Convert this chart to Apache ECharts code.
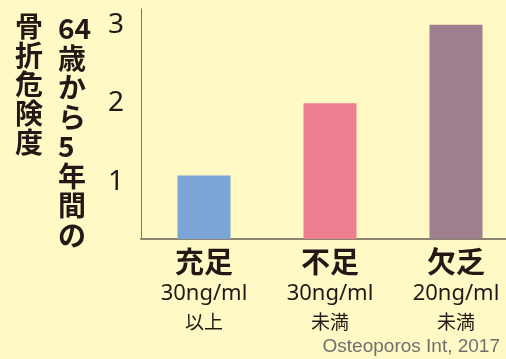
<!DOCTYPE html>
<html>
<head>
<meta charset="utf-8">
<script src="https://cdn.jsdelivr.net/npm/echarts@6/dist/echarts.min.js"></script>
<style>
	html, body { margin: 0; padding: 0; background: #fef9c5; }
	#chart { width: 506px; height: 359px; }
</style>
</head>
<body>
<div id="chart"></div>
<script>
var categories = ['充足', '不足', '欠乏'];
var levels = ['30ng/ml', '30ng/ml', '20ng/ml'];
var bounds = ['以上', '未満', '未満'];
var risk = [1.08, 2.0, 3.0];
var colors = ['#7ba4d7', '#ec7f8f', '#9e7f8e'];

var myChart = echarts.init(document.getElementById('chart'));

var data = [];
for (var i = 0; i < risk.length; i++) {
	data.push({
		value: risk[i],
		itemStyle: { color: colors[i] }
	});
}

myChart.setOption({
	backgroundColor: '#fef9c5',
	animation: false,
	grid: {
		left: 141,
		width: 378,
		top: 9,
		bottom: 120,
		outerBoundsMode: 'none'
	},
	xAxis: {
		type: 'category',
		data: categories,
		axisLine: { lineStyle: { color: '#8b8570', width: 2 } },
		axisTick: { show: false },
		axisLabel: {
			margin: 7,
			formatter: function(value, idx) {
				return '{a|' + value + '}\n{b|' + levels[idx] + '}\n{c|' + bounds[idx] + '}';
			},
			rich: {
				a: { fontSize: 29, fontWeight: 'bold', lineHeight: 31, color: '#231815', fontFamily: '"Noto Sans CJK JP"' },
				b: { fontSize: 22, lineHeight: 34, color: '#231815', fontFamily: '"Noto Sans"' },
				c: { fontSize: 19, lineHeight: 22, color: '#231815', fontFamily: '"Noto Sans CJK JP"' }
			}
		}
	},
	yAxis: {
		type: 'value',
		min: 0.27,
		max: 3.2,
		splitNumber: 3,
		splitLine: { show: false },
		axisTick: { show: false },
		axisLine: { show: true, lineStyle: { color: '#7d7763', width: 1 } },
		axisLabel: {
			margin: 17,
			fontSize: 28,
			color: '#231815',
			fontFamily: '"Noto Sans"',
			showMinLabel: false,
			showMaxLabel: false,
			formatter: function(v) {
				return Math.abs(v - Math.round(v)) < 1e-6 ? String(Math.round(v)) : '';
			}
		}
	},
	graphic: [
		{
			type: 'text',
			left: 15,
			top: 12,
			style: {
				text: '骨\n折\n危\n険\n度',
				font: 'bold 28px "Noto Sans CJK JP"',
				lineHeight: 29,
				fill: '#231815',
				align: 'center'
			}
		},
		{
			type: 'text',
			left: 58,
			top: 14,
			style: {
				text: '64\n歳\nか\nら\n5\n年\n間\nの',
				font: 'bold 28px "Noto Sans CJK JP"',
				lineHeight: 29.5,
				fill: '#231815',
				align: 'center'
			}
		},
		{
			type: 'text',
			right: 6,
			top: 337,
			style: {
				text: 'Osteoporos Int, 2017',
				font: '19px "Liberation Sans"',
				fill: '#707070'
			}
		}
	],
	series: [
		{
			type: 'bar',
			barWidth: 53,
			data: data
		}
	]
});
</script>
</body>
</html>
